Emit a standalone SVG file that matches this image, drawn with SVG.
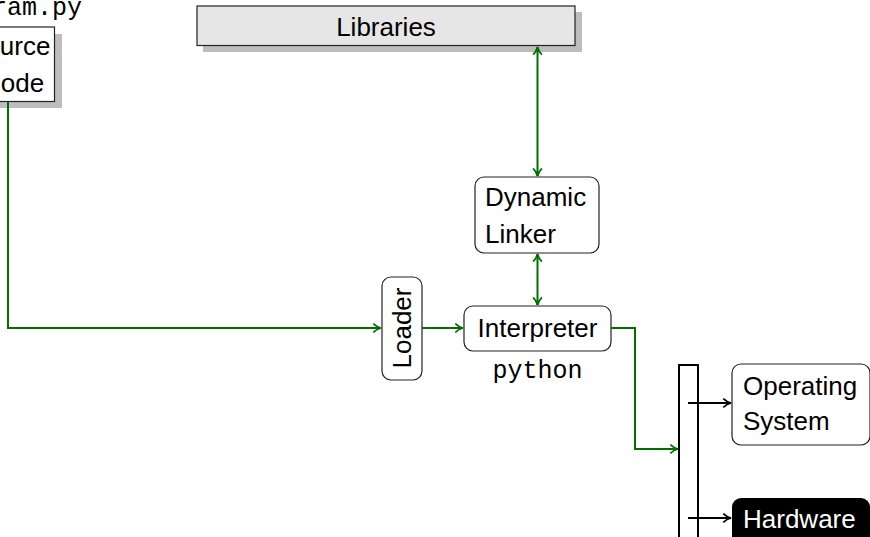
<svg xmlns="http://www.w3.org/2000/svg" width="870" height="537" viewBox="0 0 870 537">
  <defs>
    <marker id="ahg" viewBox="0 0 10 10" refX="9" refY="5" markerWidth="11" markerHeight="11" markerUnits="userSpaceOnUse" orient="auto-start-reverse">
      <path d="M2,1 Q5,4 9,5 Q5,6 2,9" fill="none" stroke="#006f00" stroke-width="1.6"/>
    </marker>
    <marker id="ahk" viewBox="0 0 10 10" refX="9" refY="5" markerWidth="11" markerHeight="11" markerUnits="userSpaceOnUse" orient="auto">
      <path d="M2,1 Q5,4 9,5 Q5,6 2,9" fill="none" stroke="#000" stroke-width="1.6"/>
    </marker>
  </defs>
  <style>
    .lbl { font-family: "Liberation Sans", Arial, sans-serif; font-size: 26px; fill: #000; }
    .mono { font-family: "Liberation Mono", "Courier New", monospace; font-size: 25px; fill: #000; }
    .box { fill: #fff; stroke: #222; stroke-width: 1.2; }
    .shadow { fill: #bdbdbd; }
    .flow { fill: none; stroke: #006f00; stroke-width: 2; }
    .ctl { fill: none; stroke: #000; stroke-width: 2; }
  </style>
  <rect width="870" height="537" fill="#fff"/>

  <!-- source file -->
  <g id="source">
    <text class="mono" x="82" y="15" text-anchor="end">program.py</text>
    <rect class="shadow" x="-34" y="34" width="96" height="74"/>
    <rect class="box" x="-40" y="27" width="94.5" height="74.5"/>
    <text class="lbl" x="-32" y="55">Source</text>
    <text class="lbl" x="-18" y="92">Code</text>
  </g>

  <!-- shared libraries -->
  <g id="libraries">
    <rect class="shadow" x="203" y="12" width="379" height="40"/>
    <rect x="197" y="6" width="378" height="39.5" fill="#e6e6e6" stroke="#222" stroke-width="1.2"/>
    <text class="lbl" x="386" y="36" text-anchor="middle">Libraries</text>
  </g>

  <!-- dynamic linker -->
  <g id="linker">
    <rect class="box" x="475" y="177" width="124" height="76" rx="9"/>
    <text class="lbl" x="485" y="206">Dynamic</text>
    <text class="lbl" x="485" y="243">Linker</text>
  </g>

  <!-- loader -->
  <g id="loader">
    <rect class="box" x="382" y="277" width="40" height="103" rx="9"/>
    <text class="lbl" transform="translate(411,328) rotate(-90)" text-anchor="middle">Loader</text>
  </g>

  <!-- interpreter -->
  <g id="interpreter">
    <rect class="box" x="464" y="306" width="147" height="45" rx="9"/>
    <text class="lbl" x="537.5" y="337" text-anchor="middle">Interpreter</text>
    <text class="mono" x="537.5" y="378" text-anchor="middle">python</text>
  </g>

  <!-- system call interface bar -->
  <g id="syscall">
    <rect x="679" y="365" width="19" height="180" fill="#fff" stroke="#000" stroke-width="2"/>
  </g>

  <!-- operating system -->
  <g id="os">
    <rect class="box" x="732" y="364" width="138" height="81" rx="9"/>
    <text class="lbl" x="743" y="395">Operating</text>
    <text class="lbl" x="743" y="430">System</text>
  </g>

  <!-- hardware -->
  <g id="hardware">
    <rect x="732" y="498" width="138" height="50" rx="9" fill="#000"/>
    <text class="lbl" x="743" y="528" style="fill:#fff">Hardware</text>
  </g>

  <!-- connectors -->
  <g id="connectors">
    <polyline class="flow" points="8,102 8,328 381,328" marker-end="url(#ahg)"/>
    <line class="flow" x1="422" y1="328" x2="463" y2="328" marker-end="url(#ahg)"/>
    <line class="flow" x1="537.5" y1="47" x2="537.5" y2="176" marker-start="url(#ahg)" marker-end="url(#ahg)"/>
    <line class="flow" x1="537.5" y1="254" x2="537.5" y2="305" marker-start="url(#ahg)" marker-end="url(#ahg)"/>
    <polyline class="flow" points="611,328 635,328 635,449 678,449" marker-end="url(#ahg)"/>
    <line class="ctl" x1="688" y1="403" x2="731" y2="403" marker-end="url(#ahk)"/>
    <line class="ctl" x1="688" y1="518" x2="731" y2="518" marker-end="url(#ahk)"/>
  </g>
</svg>
